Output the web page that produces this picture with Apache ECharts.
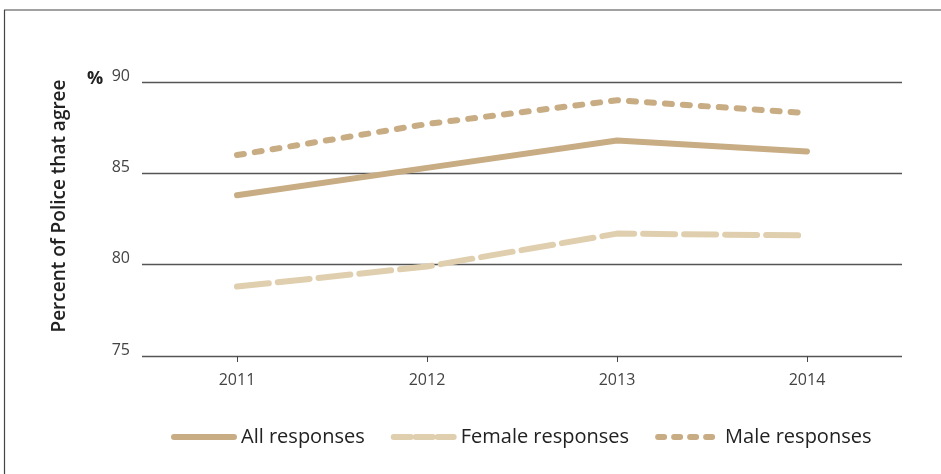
<!DOCTYPE html>
<html>
<head>
<meta charset="utf-8">
<script src="https://cdn.jsdelivr.net/npm/echarts@6/dist/echarts.min.js"></script>
<style>
html, body { margin: 0; padding: 0; background: #fff; }
#Main { width: 941px; height: 474px; }
</style>
</head>
<body>
<div id="Main"></div>
<script>
var years = ['2011', '2012', '2013', '2014'];
var allResp = [83.8, 85.3, 86.8, 86.2];
var femaleResp = [78.8, 79.9, 81.7, 81.6];
var maleResp = [86.0, 87.7, 89.0, 88.3];
var yTicks = [75, 80, 85, 90];

var font = 'Open Sans';
var allColor = '#c8ac84';
var femaleColor = '#e0cfae';
var maleColor = '#c8ac84';

var myChart = echarts.init(document.getElementById('Main'));
myChart.setOption({
	animation: false,
	grid: { left: 142, right: 39, top: 82, bottom: 118 },
	// 外框（上、左）+ 纵轴标题
	graphic: [
		{ type: 'line', shape: { x1: 4, y1: 10, x2: 941, y2: 10 }, style: { stroke: '#444', lineWidth: 1.2 } },
		{ type: 'line', shape: { x1: 4.5, y1: 10, x2: 4.5, y2: 474 }, style: { stroke: '#444', lineWidth: 1.2 } },
		{ type: 'text', left: 87, top: 70, style: { text: '%', font: 'bold 18px "Open Sans"', fill: '#222' } },
		{
			type: 'text', x: 60, y: 206, rotation: Math.PI / 2,
			style: { text: 'Percent of Police that agree', font: '600 19px "Open Sans"', fill: '#222', align: 'center', verticalAlign: 'middle' }
		}
	],
	legend: {
		bottom: 22,
		left: 166,
		itemWidth: 60,
		itemHeight: 8,
		itemGap: 26,
		itemStyle: { opacity: 0 },
		textStyle: { fontFamily: font, fontSize: 20, color: '#222', padding: [0, 0, 0, 2] },
		data: [
			{ name: 'All responses', lineStyle: { width: 6, color: allColor } },
			{ name: 'Female responses', lineStyle: { width: 6, color: femaleColor, type: [17, 5] } },
			{ name: 'Male responses', lineStyle: { width: 6, color: maleColor, type: [6, 10] } }
		]
	},
	xAxis: {
		type: 'category',
		data: years,
		boundaryGap: true,
		axisLine: { show: false },
		axisTick: { show: true, alignWithLabel: true, length: 6, lineStyle: { color: '#444' } },
		axisLabel: { fontFamily: font, fontSize: 16, color: '#444', margin: 16 }
	},
	yAxis: {
		type: 'value',
		min: 75,
		max: 90,
		interval: 5,
		axisLine: { show: false },
		axisTick: { show: false },
		axisLabel: {
			fontFamily: font, fontSize: 16, color: '#444', margin: 12,
			verticalAlign: 'bottom', lineHeight: 12,
			formatter: function (v) { return yTicks.indexOf(v) >= 0 ? String(v) : ''; }
		},
		splitLine: { lineStyle: { color: '#555', width: 1.3 } }
	},
	series: [
		{
			name: 'All responses', type: 'line', data: allResp,
			symbol: 'none', itemStyle: { color: allColor },
			lineStyle: { color: allColor, width: 6, cap: 'round', join: 'round' }
		},
		{
			name: 'Female responses', type: 'line', data: femaleResp,
			symbol: 'none', itemStyle: { color: femaleColor },
			lineStyle: { color: femaleColor, width: 6, type: [32, 9], cap: 'round', join: 'round' }
		},
		{
			name: 'Male responses', type: 'line', data: maleResp,
			symbol: 'none', itemStyle: { color: maleColor },
			lineStyle: { color: maleColor, width: 6, type: [7, 11], cap: 'round', join: 'round' }
		}
	]
});
</script>
</body>
</html>
